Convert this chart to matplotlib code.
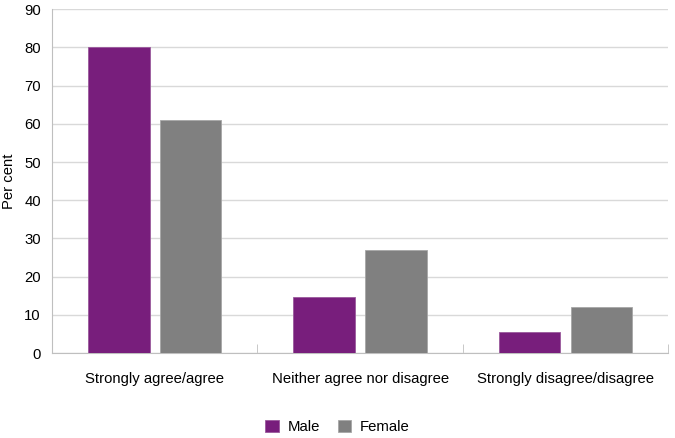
import numpy as np
import matplotlib
matplotlib.use("Agg")
import matplotlib.pyplot as plt

plt.rcParams['font.family'] = ['Liberation Sans', 'DejaVu Sans']

categories = ['Strongly agree/agree', 'Neither agree nor disagree', 'Strongly disagree/disagree']
male = [80, 14.7, 5.4]
female = [61.1, 27, 12.1]

purple = '#781E7C'
grey = '#808080'

fig = plt.figure(figsize=(6.75, 4.38), dpi=100)
ax = fig.add_axes([0.077, 0.194, 0.913, 0.785])

x = np.arange(len(categories))
w = 0.3
ax.bar(x - 0.175, male, w, color=purple, edgecolor='#9a5a9c', linewidth=0.6, label='Male', zorder=3)
ax.bar(x + 0.175, female, w, color=grey, edgecolor='#a6a6a6', linewidth=0.6, label='Female', zorder=3)

ax.set_xlim(-0.5, 2.5)
ax.set_ylim(0, 90)
ax.set_yticks(range(0, 91, 10))
ax.yaxis.grid(True, color='#d9d9d9', linewidth=1, zorder=0)
ax.set_axisbelow(True)

# category labels, tick marks only at boundaries
ax.set_xticks(x)
ax.set_xticklabels(categories, fontsize=10.7)
ax.tick_params(axis='x', length=0, pad=14)
ax.set_xticks([-0.5, 0.5, 1.5, 2.5], minor=True)
ax.tick_params(axis='x', which='minor', direction='in', length=6.5, color='#bfbfbf')
ax.tick_params(axis='y', length=0, labelsize=10.7, pad=8)

for s in ['top', 'right']:
    ax.spines[s].set_visible(False)
for s in ['left', 'bottom']:
    ax.spines[s].set_color('#bfbfbf')

ax.set_ylabel('Per cent', fontsize=10.7, labelpad=6)

fig.legend(*ax.get_legend_handles_labels(), loc='center', bbox_to_anchor=(0.5, 0.025),
           ncol=2, frameon=False, fontsize=10.7, handlelength=0.9, handleheight=0.9,
           handletextpad=0.6, columnspacing=1.2)

fig.savefig('out.png', dpi=100)
